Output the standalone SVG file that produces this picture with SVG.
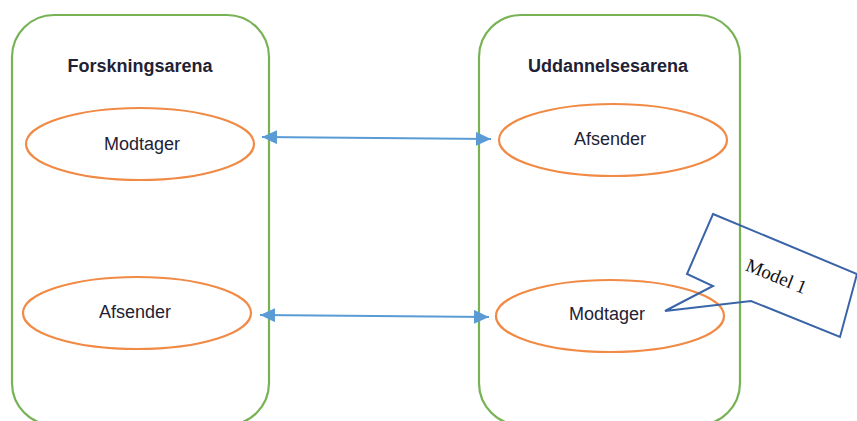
<svg xmlns="http://www.w3.org/2000/svg" width="857" height="421" viewBox="0 0 857 421">
<style>
.arena{fill:none;stroke:#77B255;stroke-width:2.2}
.ell{fill:none;stroke:#F08A45;stroke-width:2.2}
.title{font-family:"Liberation Sans",Arial,sans-serif;font-weight:bold;font-size:18px;fill:#1F2235;text-anchor:middle}
.lbl{font-family:"Liberation Sans",Arial,sans-serif;font-size:18px;fill:#1F2235;text-anchor:middle}
.conn{stroke:#5B9BD5;stroke-width:2;fill:none}
</style>
<defs>
<marker id="ah" viewBox="0 0 15 14" refX="15" refY="7" markerWidth="15" markerHeight="14" markerUnits="userSpaceOnUse" orient="auto-start-reverse">
<path d="M0,0 L15,7 L0,14 Z" fill="#5B9BD5"/>
</marker>
</defs>
<g id="forskningsarena">
<rect class="arena" x="12" y="15" width="257" height="410" rx="42" ry="42"/>
<text class="title" x="140" y="72">Forskningsarena</text>
</g>
<g id="uddannelsesarena">
<rect class="arena" x="479" y="15" width="261" height="410" rx="42" ry="42"/>
<text class="title" x="608" y="72">Uddannelsesarena</text>
</g>
<g id="f-modtager">
<ellipse class="ell" cx="140" cy="144" rx="114" ry="36"/>
<text class="lbl" x="142" y="150">Modtager</text>
</g>
<g id="f-afsender">
<ellipse class="ell" cx="137" cy="313" rx="114" ry="36"/>
<text class="lbl" x="135" y="318">Afsender</text>
</g>
<g id="u-afsender">
<ellipse class="ell" cx="613" cy="140" rx="114" ry="36"/>
<text class="lbl" x="610" y="145">Afsender</text>
</g>
<g id="u-modtager">
<ellipse class="ell" cx="610" cy="316" rx="114" ry="36"/>
<text class="lbl" x="607" y="320">Modtager</text>
</g>
<g id="connectors">
<line class="conn" x1="262" y1="137" x2="491" y2="139" marker-start="url(#ah)" marker-end="url(#ah)"/>
<line class="conn" x1="260" y1="315" x2="489" y2="317" marker-start="url(#ah)" marker-end="url(#ah)"/>
</g>
<g id="model1">
<polygon points="713,214 857,274 840,337 751,301 665,311 713,286 687,274" fill="none" stroke="#3A64A8" stroke-width="2" stroke-linejoin="miter"/>
<text x="774" y="282" transform="rotate(22 774 282)" font-family="'Liberation Serif','Times New Roman',serif" font-size="19" fill="#111" text-anchor="middle">Model 1</text>
</g>
</svg>
